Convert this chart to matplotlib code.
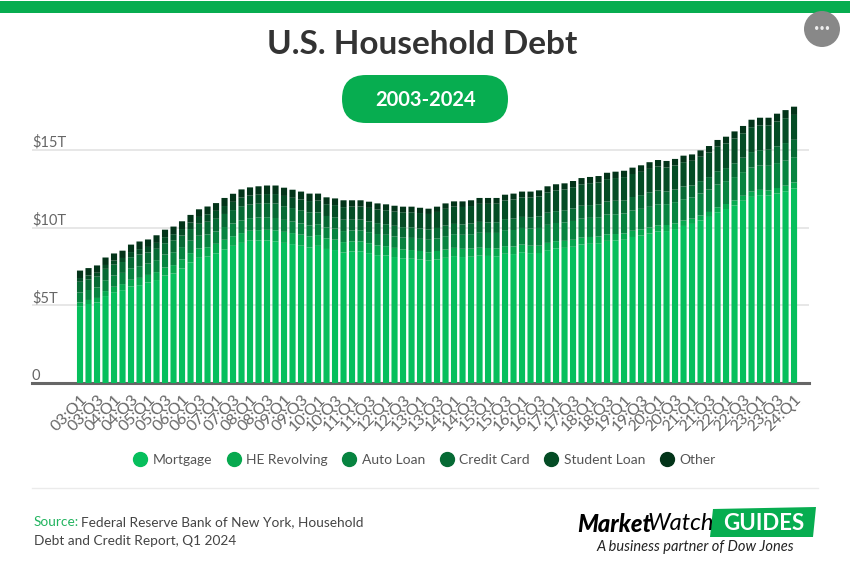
import numpy as np
import matplotlib
matplotlib.use("Agg")
import matplotlib.pyplot as plt
from matplotlib.lines import Line2D
from matplotlib.patches import Circle, FancyBboxPatch, Polygon, Rectangle

plt.rcParams["font.family"] = ["Lato", "DejaVu Sans"]

# values in trillions of dollars, 03:Q1 to 24:Q1
mortgage = [4.94, 5.08, 5.18, 5.59, 5.84, 5.97, 6.21, 6.29, 6.46, 6.62, 6.91, 7.04,
            7.37, 7.76, 8.05, 8.13, 8.34, 8.60, 8.82, 9.01, 9.15, 9.17, 9.17, 9.11,
            9.01, 8.93, 8.83, 8.72, 8.82, 8.62, 8.55, 8.39, 8.46, 8.47, 8.35, 8.22,
            8.20, 8.10, 8.02, 7.99, 7.94, 7.87, 7.95, 8.05, 8.16, 8.10, 8.12, 8.19,
            8.17, 8.15, 8.31, 8.29, 8.41, 8.35, 8.36, 8.54, 8.66, 8.69, 8.76, 8.91,
            8.95, 8.99, 9.14, 9.17, 9.21, 9.39, 9.48, 9.61, 9.75, 9.77, 9.90, 10.10,
            10.23, 10.46, 10.68, 10.98, 11.19, 11.42, 11.72, 11.97, 12.08, 12.05, 12.19, 12.33,
            12.52]
he_revolving = [0.24, 0.26, 0.29, 0.32, 0.35, 0.39, 0.43, 0.47, 0.49, 0.51, 0.52, 0.54,
                0.58, 0.59, 0.60, 0.60, 0.61, 0.61, 0.62, 0.63, 0.64, 0.66, 0.68, 0.71,
                0.71, 0.71, 0.71, 0.71, 0.69, 0.68, 0.67, 0.67, 0.65, 0.64, 0.64, 0.63,
                0.60, 0.59, 0.58, 0.56, 0.55, 0.54, 0.54, 0.53, 0.53, 0.53, 0.52, 0.51,
                0.51, 0.50, 0.49, 0.49, 0.49, 0.48, 0.47, 0.47, 0.46, 0.45, 0.45, 0.44,
                0.44, 0.43, 0.42, 0.41, 0.41, 0.40, 0.40, 0.39, 0.39, 0.39, 0.37, 0.35,
                0.34, 0.32, 0.32, 0.32, 0.32, 0.32, 0.32, 0.34, 0.34, 0.34, 0.35, 0.36,
                0.38]
auto_loan = [0.64, 0.64, 0.68, 0.70, 0.72, 0.72, 0.74, 0.75, 0.73, 0.77, 0.83, 0.83,
             0.79, 0.80, 0.82, 0.82, 0.79, 0.82, 0.82, 0.82, 0.81, 0.81, 0.81, 0.79,
             0.77, 0.74, 0.72, 0.71, 0.70, 0.70, 0.71, 0.71, 0.70, 0.71, 0.71, 0.73,
             0.73, 0.74, 0.75, 0.78, 0.78, 0.80, 0.81, 0.86, 0.88, 0.90, 0.93, 0.96,
             0.97, 1.00, 1.03, 1.06, 1.07, 1.10, 1.14, 1.16, 1.17, 1.19, 1.21, 1.22,
             1.23, 1.24, 1.27, 1.27, 1.28, 1.30, 1.32, 1.33, 1.35, 1.34, 1.36, 1.37,
             1.37, 1.41, 1.44, 1.46, 1.47, 1.50, 1.52, 1.55, 1.56, 1.58, 1.60, 1.61,
             1.62]
credit_card = [0.69, 0.69, 0.69, 0.73, 0.70, 0.70, 0.71, 0.75, 0.71, 0.73, 0.73, 0.77,
               0.74, 0.75, 0.77, 0.82, 0.82, 0.84, 0.86, 0.91, 0.87, 0.89, 0.90, 0.93,
               0.88, 0.87, 0.85, 0.84, 0.76, 0.74, 0.73, 0.73, 0.69, 0.69, 0.69, 0.70,
               0.68, 0.68, 0.67, 0.68, 0.67, 0.67, 0.67, 0.68, 0.66, 0.67, 0.68, 0.70,
               0.68, 0.69, 0.71, 0.73, 0.71, 0.73, 0.75, 0.78, 0.76, 0.78, 0.81, 0.83,
               0.82, 0.83, 0.84, 0.87, 0.85, 0.87, 0.88, 0.93, 0.89, 0.82, 0.81, 0.82,
               0.77, 0.79, 0.80, 0.86, 0.84, 0.89, 0.93, 0.99, 0.99, 1.03, 1.08, 1.13,
               1.12]
student_loan = [0.24, 0.25, 0.25, 0.25, 0.26, 0.26, 0.33, 0.35, 0.36, 0.38, 0.39, 0.39,
                0.42, 0.42, 0.44, 0.48, 0.51, 0.51, 0.53, 0.55, 0.58, 0.58, 0.59, 0.61,
                0.66, 0.66, 0.69, 0.72, 0.76, 0.76, 0.78, 0.81, 0.84, 0.84, 0.87, 0.87,
                0.90, 0.91, 0.96, 0.97, 0.99, 0.99, 1.03, 1.08, 1.11, 1.12, 1.13, 1.16,
                1.19, 1.19, 1.20, 1.23, 1.26, 1.26, 1.28, 1.31, 1.34, 1.34, 1.36, 1.38,
                1.41, 1.41, 1.44, 1.46, 1.49, 1.48, 1.50, 1.51, 1.54, 1.54, 1.55, 1.56,
                1.58, 1.57, 1.58, 1.58, 1.59, 1.59, 1.57, 1.60, 1.60, 1.57, 1.60, 1.60,
                1.60]
other = [0.48, 0.47, 0.47, 0.48, 0.46, 0.47, 0.48, 0.49, 0.48, 0.49, 0.48, 0.49,
         0.50, 0.49, 0.49, 0.50, 0.50, 0.52, 0.52, 0.53, 0.53, 0.54, 0.55, 0.55,
         0.53, 0.52, 0.51, 0.48, 0.45, 0.44, 0.43, 0.44, 0.41, 0.40, 0.40, 0.40,
         0.38, 0.38, 0.36, 0.36, 0.34, 0.34, 0.34, 0.35, 0.34, 0.36, 0.37, 0.38,
         0.38, 0.37, 0.37, 0.38, 0.37, 0.39, 0.39, 0.39, 0.39, 0.39, 0.40, 0.40,
         0.40, 0.41, 0.41, 0.41, 0.41, 0.41, 0.42, 0.43, 0.42, 0.42, 0.42, 0.42,
         0.41, 0.41, 0.42, 0.43, 0.43, 0.46, 0.47, 0.48, 0.49, 0.49, 0.50, 0.52,
         0.53]

series_names = ["Mortgage", "HE Revolving", "Auto Loan", "Credit Card", "Student Loan", "Other"]
series_values = [mortgage, he_revolving, auto_loan, credit_card, student_loan, other]
series_colors = ["#06BF5C", "#07A94F", "#078440", "#066A34", "#044C25", "#033419"]

quarters = [f"{y:02d}:Q{q}" for y in range(3, 24) for q in range(1, 5)] + ["24:Q1"]
y_ticks = [0, 5, 10, 15]
y_labels = ["0", "$5T", "$10T", "$15T"]

W, H = 850, 573
fig = plt.figure(figsize=(W / 100, H / 100), dpi=100, facecolor="white")

# plot area in pixels: x 32-809, y 383 is zero
ax = fig.add_axes([32 / W, (H - 383) / H, 777 / W, 283 / H])
x = np.arange(len(quarters))
bottom = np.zeros(len(quarters))
for vals, color, name in zip(series_values, series_colors, series_names):
    ax.bar(x, vals, width=0.72, bottom=bottom, color=color, label=name, zorder=3, snap=False)
    bottom += np.array(vals)

ax.set_xlim(-5.65, 85.76)
ax.set_ylim(0, 283 / 15.55)
ax.set_xticks(x[::2], quarters[::2], rotation=45, ha="right", rotation_mode="anchor",
              fontsize=11.5, color="#666666")
ax.set_yticks(y_ticks, y_labels, ha="left", va="bottom", fontsize=10.5, color="#666666")
ax.tick_params(axis="x", length=0, pad=7)
ax.tick_params(axis="y", length=0, pad=0)
ax.grid(axis="y", color="#E3E3E3", linewidth=1.2, zorder=0)
ax.set_axisbelow(True)
for s in ["top", "right", "left"]:
    ax.spines[s].set_visible(False)
ax.spines["bottom"].set_color("#666666")
ax.spines["bottom"].set_linewidth(2.2)
ax.patch.set_alpha(0)

# page furniture drawn in pixel coordinates
deco = fig.add_axes([0, 0, 1, 1], zorder=-1)
deco.set_xlim(0, W)
deco.set_ylim(H, 0)
deco.axis("off")

over = fig.add_axes([0, 0, 1, 1], zorder=5)
over.set_xlim(0, W)
over.set_ylim(H, 0)
over.axis("off")
over.patch.set_alpha(0)

GREEN = "#07AD50"
deco.add_patch(Rectangle((0, 1), W, 12, color=GREEN, lw=0))
deco.text(422, 44, "U.S. Household Debt", ha="center", va="center", fontsize=24,
          fontweight="bold", color="#333333")
deco.add_patch(FancyBboxPatch((342, 75), 166, 48, boxstyle="round,pad=0,rounding_size=24",
                              color=GREEN, lw=0))
deco.text(425.5, 100, "2003-2024", ha="center", va="center", fontsize=14.5,
          fontweight="bold", color="white")

over.add_patch(Circle((822, 29), 18, color="#888888", lw=0))
over.text(822, 28, "•••", ha="center", va="center", fontsize=6.5, color="#EEEEEE")

handles = [Line2D([], [], marker="o", linestyle="none", markersize=10, color=c)
           for c in series_colors]
fig.legend(handles, series_names, loc="center", bbox_to_anchor=(425 / W, 1 - 460 / H),
           ncol=6, frameon=False, fontsize=10, labelcolor="#555555",
           handlelength=0.8, handletextpad=0.5, columnspacing=1.15)

deco.plot([32, 818], [488, 488], color="#EBEBEB", lw=1)
deco.text(34, 522, "Source:", ha="left", va="center", fontsize=9.8, color="#22B45F")
deco.text(81, 522, "Federal Reserve Bank of New York, Household", ha="left", va="center",
          fontsize=9.8, color="#444444")
deco.text(34, 541, "Debt and Credit Report, Q1 2024", ha="left", va="center",
          fontsize=9.8, color="#444444")

# logo
deco.add_patch(Polygon([[713, 509], [816, 507], [813, 537], [710, 537]], color=GREEN, lw=0))
deco.text(577, 524, "Market", ha="left", va="center", fontsize=17, fontweight="black",
          style="italic", color="black")
deco.text(648, 524, "Watch", ha="left", va="center", fontsize=17, style="italic", color="black")
deco.text(764, 523, "GUIDES", ha="center", va="center", fontsize=16, fontweight="bold",
          color="white")
deco.text(695, 547, "A business partner of Dow Jones", ha="center", va="center", fontsize=10.5,
          style="italic", color="#222222")

fig.savefig("out.png", dpi=100)
